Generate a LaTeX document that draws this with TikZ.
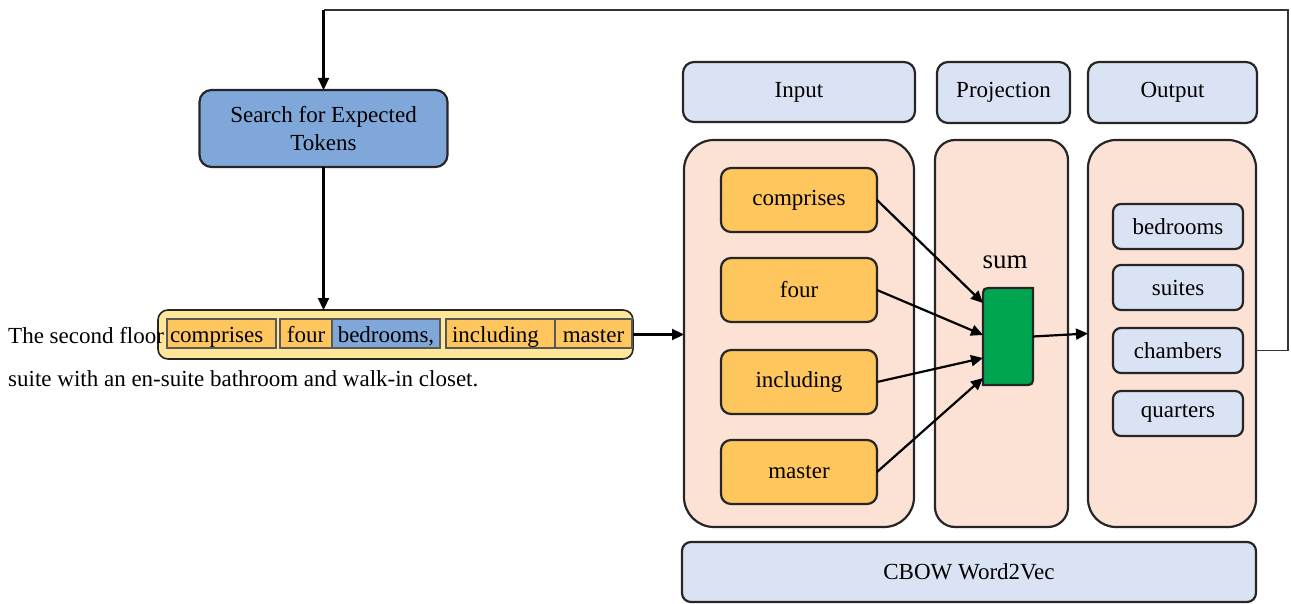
\documentclass[tikz,border=0pt]{standalone}
\usepackage{fontspec}
\newfontfamily\diafont{Liberation Serif}
\usetikzlibrary{arrows.meta,calc}
\definecolor{hdrblue}{HTML}{DAE3F3}
\definecolor{peach}{HTML}{FCE1D5}
\definecolor{itemor}{HTML}{FFC65E}
\definecolor{srchblue}{HTML}{80A7DA}
\definecolor{barylw}{HTML}{FFE699}
\definecolor{sumg}{HTML}{00A550}
\begin{document}
\begin{tikzpicture}[x=1pt,y=-1pt,
  font=\diafont\fontsize{23}{27.5}\selectfont,
  box/.style={draw=black!85, line width=2.2pt, inner sep=0pt, outer sep=0pt},
  hdrbox/.style={box, fill=hdrblue, rounded corners=11pt},
  panelbox/.style={box, fill=peach},
  initem/.style={box, fill=itemor, rounded corners=10pt, minimum width=156pt, minimum height=64pt},
  outitem/.style={box, fill=hdrblue, rounded corners=8pt, minimum width=130pt, minimum height=45pt},
  tok/.style={draw=black!65, line width=1.4pt, fill=itemor, inner ysep=0pt, inner xsep=0pt, outer sep=0pt,
              text height=23pt, text depth=6pt, minimum height=29pt},
  arr/.style={line width=2.2pt, -{Triangle[length=12pt,width=11pt]}},
  fb/.style={line width=1.3pt, draw=black!80}
]
\useasboundingbox (0,0) rectangle (1291,604);

% right side: headers
\node[hdrbox, minimum width=232pt, minimum height=60pt] (inhdr) at (799,92) {Input};
\node[hdrbox, minimum width=133pt, minimum height=61pt] (projhdr) at (1003.5,92.5) {Projection};
\node[hdrbox, minimum width=169pt, minimum height=61pt] (outhdr) at (1172.5,92.5) {Output};

% panels
\node[panelbox, rounded corners=30pt, minimum width=230pt, minimum height=387pt] (inpanel) at (799,333.5) {};
\node[panelbox, rounded corners=20pt, minimum width=133pt, minimum height=387pt] (projpanel) at (1001.5,333.5) {};
\node[panelbox, rounded corners=28pt, minimum width=168pt, minimum height=387pt] (outpanel) at (1172,333.5) {};

% CBOW
\node[hdrbox, rounded corners=9pt, minimum width=574pt, minimum height=60pt] (cbow) at (969,572) {CBOW Word2Vec};

% input items
\node[initem] (icomp) at (799,200) {comprises};
\node[initem] (ifour) at (799,290) {four};
\node[initem] (iincl) at (799,382) {including};
\node[initem] (imast) at (799,472) {master};

% output items
\node[outitem] (obed) at (1178,226.5) {bedrooms};
\node[outitem] (osuit) at (1178,287.5) {suites};
\node[outitem] (ocham) at (1178,350.5) {chambers};
\node[outitem] (oquar) at (1178,413.5) {quarters};

% sum
\node[font=\diafont\fontsize{27}{32}\selectfont] (sumlbl) at (1005,262) {sum};
\node[inner sep=0pt, outer sep=0pt, minimum width=50pt, minimum height=97pt] (sum) at (1008,336.5) {};
\draw[box, fill=sumg] (sum.south west) -- ($(sum.north west)+(0,10)$)
  .. controls (sum.north west) .. ($(sum.north west)+(10,0)$) -- (sum.north east)
  -- ($(sum.south east)+(0,-10)$) .. controls (sum.south east) .. ($(sum.south east)+(-10,0)$) -- cycle;

\draw[arr] (icomp.east) -- ([yshift=33.5pt]sum.west);
\draw[arr] (ifour.east) -- ([yshift=1.5pt]sum.west);
\draw[arr] (iincl.east) -- ([yshift=-21.5pt]sum.west);
\draw[arr] (imast.east) -- ([yshift=-41.5pt]sum.west);
\draw[arr] (sum.east) -- (outpanel.west);

% left side
\node[box, fill=srchblue, rounded corners=12pt, minimum width=248pt, minimum height=77pt, align=center] (search) at (323.5,128.5) {Search for Expected\\Tokens};

\node[draw=black!85, line width=1.6pt, fill=barylw, rounded corners=10pt, inner sep=0pt, outer sep=0pt,
      minimum width=475pt, minimum height=49pt] (bar) at (395.5,334.5) {};

\node[tok, anchor=north west, inner xsep=3pt, text width=103pt, align=left] (tcomp) at (167,319) {comprises};
\node[tok, anchor=north west, minimum width=52pt] (tfour) at (280,319) {four};
\node[tok, anchor=north west, minimum width=108pt, fill=srchblue] (tbed) at (332,319) {bedrooms,};
\node[tok, anchor=north west, inner xsep=6pt, text width=97pt, align=left] (tincl) at (446,319) {including};
\node[tok, anchor=north west, minimum width=77pt] (tmast) at (555,319) {master};

\node[anchor=base west, inner sep=0pt] (line1) at (8,343) {The second floor};
\node[anchor=base west, inner sep=0pt] (line2) at (8,386) {suite with an en-suite bathroom and walk-in closet.};

\draw[arr] (search.south) -- (search.south |- bar.north);
\draw[arr] (bar.east) -- (inpanel.west |- bar.east);

% feedback loop
\coordinate (fbR) at (1288,10);
\coordinate (fbL) at (search.north |- fbR);
\draw[fb] (outpanel.east |- ocham.east) -| (fbR) -- (fbL);
\draw[arr] (fbL) -- (search.north);
\end{tikzpicture}
\end{document}
